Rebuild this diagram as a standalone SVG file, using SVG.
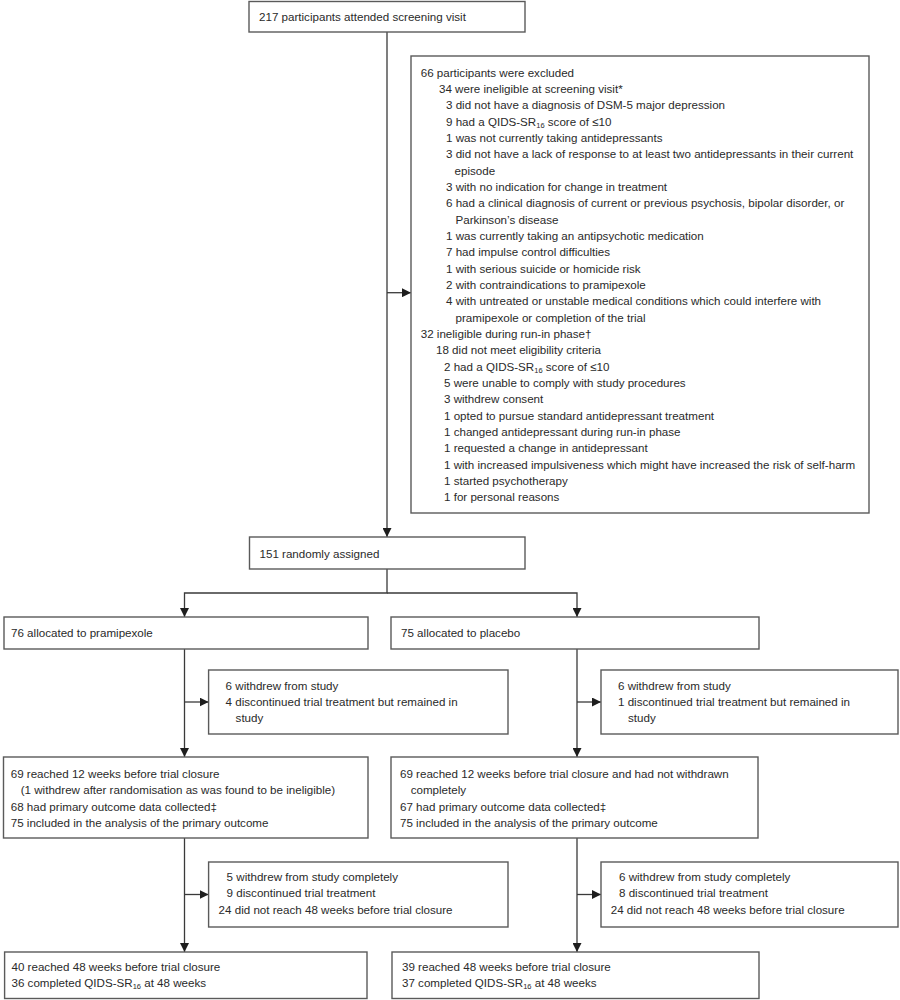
<svg xmlns="http://www.w3.org/2000/svg" width="900" height="1000" viewBox="0 0 900 1000">
<style>
.box{fill:#fff;stroke:#5a5a5a;stroke-width:1.4}
.ln{fill:none;stroke:#3a3a3a;stroke-width:1.3}
text{font-family:"Liberation Sans",Arial,sans-serif;font-size:11.6px;fill:#2a2a2a}
.sub{font-size:7.5px}
</style>
<defs>
<marker id="ah" markerUnits="userSpaceOnUse" markerWidth="9" markerHeight="9" viewBox="0 0 10 10" refX="10" refY="5" orient="auto">
<path d="M0,0 L10,5 L0,10 z" fill="#1e1e1e"/>
</marker>
</defs>
<rect width="900" height="1000" fill="#fff"/>
<g id="connectors">
<path class="ln" d="M387,32 V537" marker-end="url(#ah)"/>
<path class="ln" d="M387,292.7 H411" marker-end="url(#ah)"/>
<path class="ln" d="M387,569 V593 H184.5 V617" marker-end="url(#ah)"/>
<path class="ln" d="M387,593 H577 V617" marker-end="url(#ah)"/>
<path class="ln" d="M184.5,649 V757" marker-end="url(#ah)"/>
<path class="ln" d="M184.5,702 H208.6" marker-end="url(#ah)"/>
<path class="ln" d="M577,649 V757" marker-end="url(#ah)"/>
<path class="ln" d="M577,702 H601" marker-end="url(#ah)"/>
<path class="ln" d="M184.5,838 V952" marker-end="url(#ah)"/>
<path class="ln" d="M184.5,894.5 H208.6" marker-end="url(#ah)"/>
<path class="ln" d="M577,838 V952" marker-end="url(#ah)"/>
<path class="ln" d="M577,894.5 H601" marker-end="url(#ah)"/>
</g>
<g id="screening">
<rect class="box" x="249" y="1.5" width="276" height="30.5"/>
<text x="259" y="21">217 participants attended screening visit</text>
</g>
<g id="excluded">
<rect class="box" x="411" y="56" width="458" height="457"/>
<text x="420.7" y="76.7">66 participants were excluded</text>
<text x="439" y="93">34 were ineligible at screening visit*</text>
<text x="446" y="109.4">3 did not have a diagnosis of DSM-5 major depression</text>
<text x="446" y="125.7">9 had a QIDS-SR<tspan class="sub" dy="2">16</tspan><tspan dy="-2"> score of ≤10</tspan></text>
<text x="446" y="142">1 was not currently taking antidepressants</text>
<text x="446" y="158.4">3 did not have a lack of response to at least two antidepressants in their current</text>
<text x="454.5" y="174.7">episode</text>
<text x="446" y="191">3 with no indication for change in treatment</text>
<text x="446" y="207.3">6 had a clinical diagnosis of current or previous psychosis, bipolar disorder, or</text>
<text x="455.5" y="223.7">Parkinson’s disease</text>
<text x="446" y="240">1 was currently taking an antipsychotic medication</text>
<text x="446" y="256.3">7 had impulse control difficulties</text>
<text x="446" y="272.7">1 with serious suicide or homicide risk</text>
<text x="446" y="289">2 with contraindications to pramipexole</text>
<text x="446" y="305.3">4 with untreated or unstable medical conditions which could interfere with</text>
<text x="455.5" y="321.7">pramipexole or completion of the trial</text>
<text x="420.7" y="338">32 ineligible during run-in phase†</text>
<text x="436" y="354.3">18 did not meet eligibility criteria</text>
<text x="444" y="370.6">2 had a QIDS-SR<tspan class="sub" dy="2">16</tspan><tspan dy="-2"> score of ≤10</tspan></text>
<text x="444" y="387">5 were unable to comply with study procedures</text>
<text x="444" y="403.3">3 withdrew consent</text>
<text x="444" y="419.6">1 opted to pursue standard antidepressant treatment</text>
<text x="444" y="436">1 changed antidepressant during run-in phase</text>
<text x="444" y="452.3">1 requested a change in antidepressant</text>
<text x="444" y="468.6">1 with increased impulsiveness which might have increased the risk of self-harm</text>
<text x="444" y="485">1 started psychotherapy</text>
<text x="444" y="501.3">1 for personal reasons</text>
</g>
<g id="randomised">
<rect class="box" x="249.5" y="537" width="275.5" height="32"/>
<text x="259.5" y="558">151 randomly assigned</text>
</g>
<g id="alloc-pramipexole">
<rect class="box" x="4" y="617" width="364" height="32"/>
<text x="11" y="637">76 allocated to pramipexole</text>
</g>
<g id="alloc-placebo">
<rect class="box" x="391" y="617" width="368" height="32"/>
<text x="401" y="637">75 allocated to placebo</text>
</g>
<g id="withdrew-pramipexole-1">
<rect class="box" x="208.6" y="670" width="299.4" height="64"/>
<text x="225.6" y="690">6 withdrew from study</text>
<text x="225.6" y="706">4 discontinued trial treatment but remained in</text>
<text x="235.6" y="722">study</text>
</g>
<g id="withdrew-placebo-1">
<rect class="box" x="601" y="670" width="297" height="64"/>
<text x="618" y="690">6 withdrew from study</text>
<text x="618" y="706">1 discontinued trial treatment but remained in</text>
<text x="628" y="722">study</text>
</g>
<g id="week12-pramipexole">
<rect class="box" x="3.5" y="757" width="364.5" height="81"/>
<text x="10.7" y="778">69 reached 12 weeks before trial closure</text>
<text x="20.7" y="794.3">(1 withdrew after randomisation as was found to be ineligible)</text>
<text x="10.7" y="810.6">68 had primary outcome data collected‡</text>
<text x="10.7" y="827">75 included in the analysis of the primary outcome</text>
</g>
<g id="week12-placebo">
<rect class="box" x="391" y="757" width="367" height="81"/>
<text x="400" y="778">69 reached 12 weeks before trial closure and had not withdrawn</text>
<text x="410.7" y="794.3">completely</text>
<text x="400" y="810.6">67 had primary outcome data collected‡</text>
<text x="400" y="827">75 included in the analysis of the primary outcome</text>
</g>
<g id="withdrew-pramipexole-2">
<rect class="box" x="208.6" y="862" width="299.4" height="65"/>
<text x="226.6" y="881">5 withdrew from study completely</text>
<text x="226.6" y="897.3">9 discontinued trial treatment</text>
<text x="218.6" y="913.6">24 did not reach 48 weeks before trial closure</text>
</g>
<g id="withdrew-placebo-2">
<rect class="box" x="601" y="862" width="297" height="65"/>
<text x="619" y="881">6 withdrew from study completely</text>
<text x="619" y="897.3">8 discontinued trial treatment</text>
<text x="610.7" y="913.6">24 did not reach 48 weeks before trial closure</text>
</g>
<g id="week48-pramipexole">
<rect class="box" x="4.6" y="952" width="362.4" height="46.5"/>
<text x="11.5" y="971">40 reached 48 weeks before trial closure</text>
<text x="11.5" y="987">36 completed QIDS-SR<tspan class="sub" dy="2">16</tspan><tspan dy="-2"> at 48 weeks</tspan></text>
</g>
<g id="week48-placebo">
<rect class="box" x="392" y="952" width="367" height="46.5"/>
<text x="402" y="971">39 reached 48 weeks before trial closure</text>
<text x="402" y="987">37 completed QIDS-SR<tspan class="sub" dy="2">16</tspan><tspan dy="-2"> at 48 weeks</tspan></text>
</g>
</svg>
